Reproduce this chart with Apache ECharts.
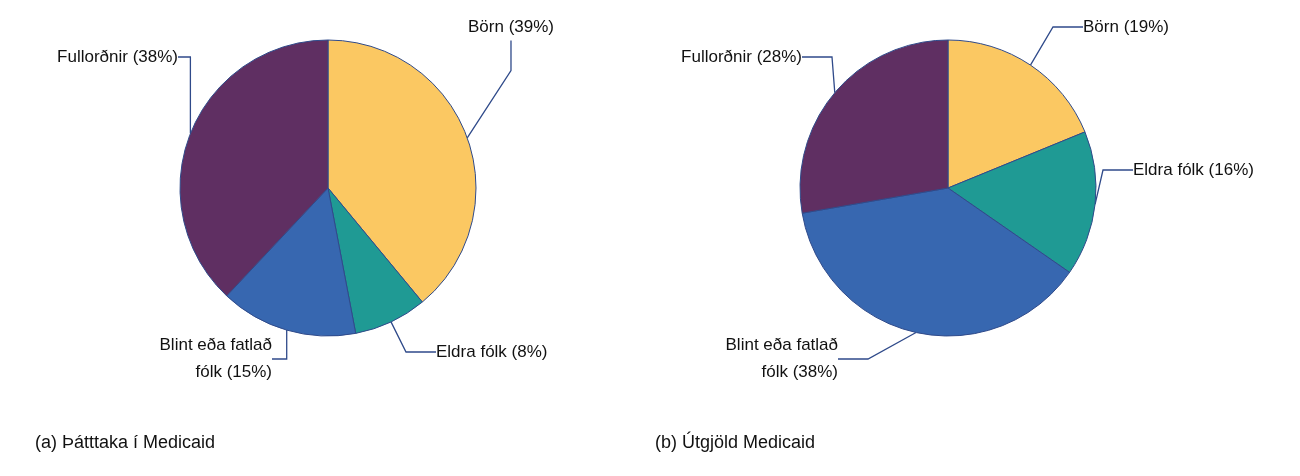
<!DOCTYPE html>
<html><head><meta charset="utf-8">
<script src="https://cdn.jsdelivr.net/npm/echarts@6/dist/echarts.min.js"></script>
<style>html,body{margin:0;background:#fff}#c{width:1300px;height:476px}</style>
</head><body><div id="c"></div>
<script>
const categories = ['Börn', 'Eldra fólk', 'Blint eða fatlað\nfólk', 'Fullorðnir'];
const participation = [39, 8, 15, 38];
const spending = [19, 16, 38, 28];
const colors = ['#FBC862', '#1F9A94', '#3767B0', '#5F2F62'];
const captions = ['(a) Þátttaka í Medicaid', '(b) Útgjöld Medicaid'];
// label anchor positions [x, y, align]
const labelPos = [
  [[468, 27, 'left'], [436, 352, 'left'], [272, 359, 'right'], [178, 57, 'right']],
  [[1083, 27, 'left'], [1133, 170, 'left'], [838, 359, 'right'], [802, 57, 'right']]
];

function series(vals, cx, si) {
  return {
    type: 'pie', center: [cx, 188], radius: 148, startAngle: 90, clockwise: true,
    data: categories.map((c, i) => ({ name: c, value: vals[i], itemStyle: { color: colors[i] } })),
    itemStyle: { borderColor: '#2F4A8A', borderWidth: 1 },
    label: { formatter: p => p.name + ' (' + p.value + '%)', color: '#111', fontSize: 17,
      fontFamily: 'Liberation Sans, Arial', lineHeight: 27, overflow: 'none' },
    labelLine: { length: 20, length2: 30, lineStyle: { color: '#2F4A8A', width: 1.3 } },
    labelLayout: p => { const l = labelPos[si][p.dataIndex]; return { x: l[0], y: l[1], align: l[2], verticalAlign: 'middle', moveOverlap: false }; },
    emphasis: { disabled: true }, silent: true, animation: false
  };
}
const chart = echarts.init(document.getElementById('c'));
chart.setOption({
  animation: false,
  graphic: [
    { type: 'text', left: 35, top: 434, style: { text: captions[0], fontSize: 18, fill: '#111', fontFamily: 'Liberation Sans, Arial' } },
    { type: 'text', left: 655, top: 434, style: { text: captions[1], fontSize: 18, fill: '#111', fontFamily: 'Liberation Sans, Arial' } }
  ],
  series: [series(participation, 328, 0), series(spending, 948, 1)]
});
</script></body></html>
